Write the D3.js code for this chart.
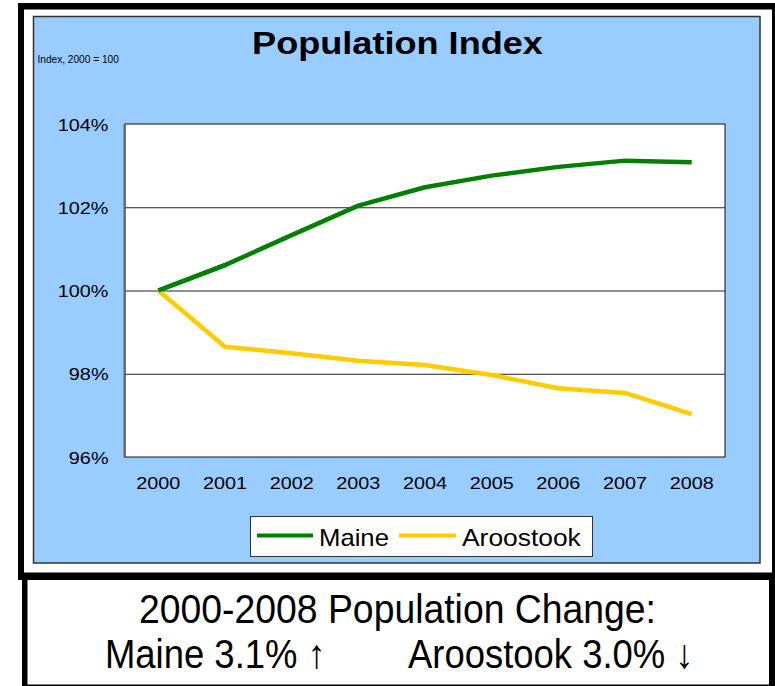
<!DOCTYPE html>
<html>
<head>
<meta charset="utf-8">
<script src="https://cdn.jsdelivr.net/npm/d3@7"></script>
<style>
  html, body { margin: 0; padding: 0; background: #ffffff; }
  svg { display: block; }
  text { font-family: "Liberation Sans", Arial, sans-serif; fill: #000; }
</style>
</head>
<body>
<svg id="chart" width="775" height="686"></svg>
<script>
// Population index, 2000 = 100
const years = ["2000", "2001", "2002", "2003", "2004", "2005", "2006", "2007", "2008"];
const maine = [100.00, 100.61, 101.33, 102.04, 102.48, 102.76, 102.97, 103.12, 103.08];
const aroostook = [100.00, 98.65, 98.49, 98.31, 98.21, 97.97, 97.65, 97.54, 97.03];
const yTicks = [96, 98, 100, 102, 104];
const seriesNames = ["Maine", "Aroostook"];
const seriesColors = ["#008000", "#FFCC00"];

const svg = d3.select("#chart");

// helper: text with horizontal stretch/condense
function label(g, x, y, str, opts) {
  const o = Object.assign({ size: 16, sx: 1, anchor: "start", weight: "normal" }, opts);
  return g.append("text")
    .attr("transform", `translate(${x},${y}) scale(${o.sx},1)`)
    .attr("text-anchor", o.anchor)
    .attr("font-size", o.size)
    .attr("font-weight", o.weight)
    .text(str);
}

// outer frame of the chart block
svg.append("rect").attr("x", 18).attr("y", 3).attr("width", 760).attr("height", 577).attr("fill", "#000");
svg.append("rect").attr("x", 24).attr("y", 9.5).attr("width", 748).attr("height", 563).attr("fill", "#fff");

// light-blue chart panel
svg.append("rect").attr("x", 33.5).attr("y", 16.5).attr("width", 726.5).attr("height", 546.5)
  .attr("fill", "#99CCFF").attr("stroke", "#333").attr("stroke-width", 1.5);

// caption box
svg.append("rect").attr("x", 22).attr("y", 573).attr("width", 756).attr("height", 115).attr("fill", "#000");
svg.append("rect").attr("x", 27.5).attr("y", 580).attr("width", 741.5).attr("height", 104.5).attr("fill", "#fff");

// plot area
const plot = { left: 125, top: 124, right: 725, bottom: 457 };
const x = d3.scalePoint().domain(years).range([plot.left, plot.right]).padding(0.5);
const y = d3.scaleLinear().domain([96, 104]).range([plot.bottom, plot.top]);

svg.append("rect")
  .attr("x", plot.left).attr("y", plot.top)
  .attr("width", plot.right - plot.left).attr("height", plot.bottom - plot.top)
  .attr("fill", "#fff");

// horizontal gridlines
const grid = svg.append("g")
  .attr("transform", `translate(${plot.left},0)`)
  .call(d3.axisLeft(y).tickValues(yTicks.slice(1, -1)).tickSize(-(plot.right - plot.left)).tickFormat(""));
grid.select(".domain").remove();
grid.selectAll(".tick line").attr("stroke", "#222").attr("stroke-width", 1);

// plot border
svg.append("rect")
  .attr("x", plot.left).attr("y", plot.top)
  .attr("width", plot.right - plot.left).attr("height", plot.bottom - plot.top)
  .attr("fill", "none").attr("stroke", "#111").attr("stroke-width", 1);
svg.append("line")
  .attr("x1", plot.left - 0.5).attr("x2", plot.left - 0.5)
  .attr("y1", plot.top).attr("y2", plot.bottom + 0.5)
  .attr("stroke", "#666").attr("stroke-width", 2);

// y tick labels
yTicks.forEach(t => label(svg, plot.left - 16.5, y(t) + 6.5, t + "%", { size: 16.8, sx: 1.18, anchor: "end" }));

// x tick labels
years.forEach(yr => label(svg, x(yr), 489, yr, { size: 16.8, sx: 1.18, anchor: "middle" }));

// series lines
const line = d3.line().x((d, i) => x(years[i])).y(d => y(d));
[maine, aroostook].forEach((vals, i) => {
  svg.append("path")
    .datum(vals)
    .attr("d", line)
    .attr("fill", "none")
    .attr("stroke", seriesColors[i])
    .attr("stroke-width", 4.5)
    .attr("stroke-linejoin", "round");
});
// Maine drawn on top at the shared starting point
svg.append("path").datum(maine.slice(0, 2)).attr("d", line)
  .attr("fill", "none").attr("stroke", seriesColors[0]).attr("stroke-width", 4.5);

// titles
label(svg, 397.5, 54, "Population Index", { size: 31, sx: 1.165, anchor: "middle", weight: "bold" });
label(svg, 37.5, 63, "Index, 2000 = 100", { size: 11.5, sx: 0.88 });

// legend
svg.append("rect").attr("x", 250.5).attr("y", 516.5).attr("width", 342).attr("height", 40)
  .attr("fill", "#fff").attr("stroke", "#333").attr("stroke-width", 1);
const legendItems = [
  { x1: 257, x2: 313, tx: 319 },
  { x1: 399, x2: 456, tx: 462 }
];
legendItems.forEach((it, i) => {
  svg.append("line").attr("x1", it.x1).attr("x2", it.x2).attr("y1", 535.5).attr("y2", 535.5)
    .attr("stroke", seriesColors[i]).attr("stroke-width", 4);
  label(svg, it.tx, 545.5, seriesNames[i], { size: 24, sx: i === 0 ? 1.07 : 1.1 });
});

// caption
label(svg, 397.5, 623, "2000-2008 Population Change:", { size: 41.5, sx: 0.9, anchor: "middle" });
label(svg, 105, 668, "Maine 3.1% \u2191", { size: 40.5, sx: 0.9 });
label(svg, 408, 668, "Aroostook 3.0% \u2193", { size: 40.5, sx: 0.9 });
</script>
</body>
</html>
